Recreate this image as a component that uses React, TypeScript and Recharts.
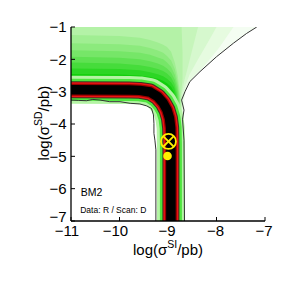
import React from "react";
import { ComposedChart, Area, Line, Scatter, XAxis, YAxis, Label } from "recharts";

const FONT = "Liberation Sans, Arial, Helvetica, sans-serif";

const xTicks = [-11, -10, -9, -8, -7];
const yTicks = [-7, -6, -5, -4, -3, -2, -1];

// centre line of the black/red valley
const bandCenter = [
  { x: -11, y: -2.94 },
  { x: -9.8, y: -2.95 },
  { x: -9.58, y: -2.96 },
  { x: -9.37, y: -3.01 },
  { x: -9.21, y: -3.16 },
  { x: -9.1, y: -3.35 },
  { x: -9.02, y: -3.57 },
  { x: -8.97, y: -3.82 },
  { x: -8.945, y: -4.12 },
  { x: -8.94, y: -4.6 },
  { x: -8.94, y: -7 },
];

// thin contour lines
const innerContour = [
  { x: -11, y: -3.26 },
  { x: -10.85, y: -3.27 },
  { x: -10.68, y: -3.28 },
  { x: -10.55, y: -3.24 },
  { x: -10.4, y: -3.26 },
  { x: -10.2, y: -3.31 },
  { x: -9.99, y: -3.31 },
  { x: -9.78, y: -3.36 },
  { x: -9.58, y: -3.38 },
  { x: -9.44, y: -3.44 },
  { x: -9.34, y: -3.52 },
  { x: -9.3, y: -3.72 },
  { x: -9.29, y: -3.98 },
  { x: -9.29, y: -4.29 },
  { x: -9.27, y: -4.5 },
  { x: -9.25, y: -4.8 },
  { x: -9.25, y: -7 },
];
const outerContour = [
  { x: -8.66, y: -7 },
  { x: -8.67, y: -4.5 },
  { x: -8.7, y: -3.85 },
  { x: -8.67, y: -3.57 },
  { x: -8.72, y: -3.26 },
  { x: -8.65, y: -3.0 },
  { x: -8.55, y: -2.69 },
  { x: -8.34, y: -2.38 },
  { x: -8.0, y: -1.92 },
  { x: -7.65, y: -1.5 },
  { x: -7.38, y: -1.2 },
  { x: -7.17, y: -1.0 },
];

// green likelihood shells: [x, low, high], lightest first
const underBand = [-11, -10, -9.58, -9.37, -9.21, -9.1, -9.02, -8.945];
const underBandLow = [-2.94, -2.95, -2.96, -3.01, -3.16, -3.35, -3.57, -4.12];

const shellColors = [
  "#f4fdf2", "#e6fbe0", "#d6f8ce", "#c6f5bb", "#b4f2a7", "#a0ee92",
  "#8cea7d", "#76e668", "#5fe152", "#46dc3b", "#2cd624", "#12cf0c",
];
const shellTops = [
  [-1, -1, -1, -1, -1, -1, -1, -1],
  [-1, -1, -1, -1, -1, -1, -1, -1],
  [-1, -1, -1, -1, -1, -1, -1, -1],
  [-1, -1, -1, -1, -1, -1, -1, -1],
  [-1, -1, -1, -1, -1, -1, -1, -1],
  [-1.25, -1.28, -1.33, -1.4, -1.48, -1.55, -1.62, -1.75],
  [-1.5, -1.53, -1.58, -1.65, -1.73, -1.8, -1.9, -2.02],
  [-1.72, -1.75, -1.8, -1.86, -1.94, -2.0, -2.1, -2.22],
  [-1.92, -1.95, -2.0, -2.06, -2.13, -2.2, -2.28, -2.4],
  [-2.1, -2.13, -2.18, -2.24, -2.3, -2.36, -2.44, -2.55],
  [-2.28, -2.3, -2.34, -2.4, -2.46, -2.52, -2.6, -2.7],
  [-2.45, -2.47, -2.5, -2.55, -2.6, -2.66, -2.74, -2.84],
];
const shellRight = [
  [[-8.94, -7, -1], [-8.66, -7, -1], [-8.67, -3.6, -1], [-8.65, -3.0, -1], [-8.55, -2.69, -1], [-8.34, -2.38, -1], [-8.0, -1.92, -1], [-7.65, -1.5, -1], [-7.38, -1.2, -1], [-7.17, -1.0, -1]],
  [[-8.94, -7, -1], [-8.68, -7, -1], [-8.69, -3.3, -1], [-8.62, -2.85, -1], [-8.48, -2.55, -1], [-8.25, -2.2, -1], [-7.95, -1.65, -1], [-7.65, -1.0, -1]],
  [[-8.94, -7, -1], [-8.7, -7, -1], [-8.71, -3.2, -1], [-8.64, -2.8, -1], [-8.55, -2.45, -1], [-8.38, -2.0, -1], [-8.15, -1.4, -1], [-8.0, -1.0, -1]],
  [[-8.94, -7, -1], [-8.715, -7, -1], [-8.72, -3.1, -1], [-8.67, -2.7, -1], [-8.6, -2.3, -1], [-8.5, -1.7, -1], [-8.38, -1.0, -1]],
  [[-8.94, -7, -1], [-8.73, -7, -1], [-8.73, -3.05, -1], [-8.7, -2.6, -1], [-8.7, -1.8, -1], [-8.72, -1.0, -1]],
  [[-8.94, -7, -1.75], [-8.86, -7, -2.1], [-8.8, -7, -2.5], [-8.76, -7, -2.95], [-8.745, -7, -3.4], [-8.74, -7, -7]],
  [[-8.94, -7, -2.02], [-8.86, -7, -2.3], [-8.8, -7, -2.7], [-8.765, -7, -3.1], [-8.75, -7, -3.5], [-8.745, -7, -7]],
  [[-8.94, -7, -2.22], [-8.86, -7, -2.48], [-8.8, -7, -2.85], [-8.77, -7, -3.25], [-8.755, -7, -3.6], [-8.75, -7, -7]],
  [[-8.94, -7, -2.4], [-8.86, -7, -2.63], [-8.81, -7, -2.95], [-8.78, -7, -3.35], [-8.765, -7, -3.7], [-8.76, -7, -7]],
  [[-8.94, -7, -2.55], [-8.87, -7, -2.75], [-8.82, -7, -3.05], [-8.79, -7, -3.45], [-8.775, -7, -3.8], [-8.77, -7, -7]],
  [[-8.94, -7, -2.7], [-8.87, -7, -2.88], [-8.83, -7, -3.15], [-8.8, -7, -3.55], [-8.785, -7, -3.9], [-8.78, -7, -7]],
  [[-8.94, -7, -2.84], [-8.88, -7, -3.0], [-8.84, -7, -3.25], [-8.81, -7, -3.65], [-8.795, -7, -4.0], [-8.79, -7, -7]],
];

// cross-section of the valley, outermost stroke first
const bandWidths = [28, 22, 17, 15, 12, 9.5];
const bandColors = ["#b4f4a4", "#4ee63e", "#3a3220", "#ec1414", "#9a0000", "#000000"];

const bestFit = [{ x: -8.99, y: -4.54 }];
const benchmark = [{ x: -9.01, y: -4.99 }];
const notes = [
  { x: -10.8, y: -6.22, text: "BM2", size: 10.5 },
  { x: -10.81, y: -6.74, text: "Data: R / Scan: D", size: 8.5 },
];

const shells = shellColors.map((c, i) => ({
  color: c,
  data: [
    ...underBand.map((x, j) => ({ x, range: [underBandLow[j], shellTops[i][j]] })),
    ...shellRight[i].map(([x, lo, hi]) => ({ x, range: [lo, hi] })),
  ],
}));

const fmt = (v: number) => (v < 0 ? "\u2212" + Math.abs(v) : String(v));

const BottomTick = (p: any) => (
  <g>
    <line x1={p.x} x2={p.x} y1={p.y} y2={p.y - 4} stroke="#000" strokeWidth={1} />
    <text x={p.x} dx={p.payload.value <= -10 ? -4 : -1} y={p.y + 14.5} textAnchor="middle" fontSize={15} fontFamily={FONT} fill="#000">
      {fmt(p.payload.value)}
    </text>
  </g>
);
const LeftTick = (p: any) => (
  <g>
    <line x1={p.x} x2={p.x + 4} y1={p.y} y2={p.y} stroke="#000" strokeWidth={1} />
    <text x={p.x - 4.3} y={p.y + (p.payload.value === -7 ? -4.5 : 0)} dy="0.36em" textAnchor="end" fontSize={15} fontFamily={FONT} fill="#000">
      {fmt(p.payload.value)}
    </text>
  </g>
);
const TopTick = (p: any) => <line x1={p.x} x2={p.x} y1={p.y} y2={p.y + 4} stroke="#000" strokeWidth={1} />;
const RightTick = (p: any) => <line x1={p.x} x2={p.x - 4} y1={p.y} y2={p.y} stroke="#000" strokeWidth={1} />;

const XTitle = (props: any) => {
  const { x, y, width } = props.viewBox;
  return (
    <text x={x + width / 2} y={y + 34} textAnchor="middle" fontSize={15} fontFamily={FONT} fill="#000">
      log(σ<tspan dy={-7} fontSize={10.5}>SI</tspan>
      <tspan dy={7}>/pb)</tspan>
    </text>
  );
};
const YTitle = (props: any) => {
  const { y, height } = props.viewBox;
  const cx = 40.5;
  const cy = y + height / 2 - 1;
  return (
    <text x={cx} y={cy} transform={`rotate(-90, ${cx}, ${cy})`} textAnchor="middle" fontSize={15} fontFamily={FONT} fill="#000">
      log(σ<tspan dy={-7} fontSize={10.5}>SD</tspan>
      <tspan dy={7}>/pb)</tspan>
    </text>
  );
};

const CrossCircle = (p: any) => (
  <g stroke="#ffee00" strokeWidth={1.8} fill="none">
    <circle cx={p.cx} cy={p.cy} r={7.5} />
    <line x1={p.cx - 5.3} y1={p.cy - 5.3} x2={p.cx + 5.3} y2={p.cy + 5.3} />
    <line x1={p.cx - 5.3} y1={p.cy + 5.3} x2={p.cx + 5.3} y2={p.cy - 5.3} />
  </g>
);
const Dot = (p: any) => <circle cx={p.cx} cy={p.cy} r={4.3} fill="#ffee00" />;
const Note = (p: any) => (
  <text x={p.cx} y={p.cy} fontSize={p.payload.size} fontFamily={FONT} fill="#000">
    {p.payload.text}
  </text>
);

export default function App() {
  return (
    <ComposedChart width={283} height={283} margin={{ top: 19, right: 26, bottom: 30, left: 0 }}>
      <XAxis dataKey="x" type="number" domain={[-11, -7]} ticks={xTicks} allowDataOverflow
        height={40} tickSize={0} tickMargin={0} tick={BottomTick}
        axisLine={{ stroke: "#000", strokeWidth: 1.3 }}>
        <Label content={XTitle} />
      </XAxis>
      <XAxis xAxisId="t" orientation="top" dataKey="x" type="number" domain={[-11, -7]} ticks={xTicks}
        allowDataOverflow height={0} tickSize={0} tickMargin={0} tick={TopTick}
        axisLine={{ stroke: "#000", strokeWidth: 1.3 }} />
      <YAxis type="number" domain={[-7, -1]} ticks={yTicks} allowDataOverflow width={63}
        tickSize={0} tickMargin={0} tick={LeftTick} axisLine={{ stroke: "#000", strokeWidth: 1.3 }}>
        <Label content={YTitle} />
      </YAxis>
      <YAxis yAxisId="r" orientation="right" type="number" domain={[-7, -1]} ticks={yTicks} allowDataOverflow
        width={0} tickSize={0} tickMargin={0} tick={RightTick} axisLine={{ stroke: "#000", strokeWidth: 1.3 }} />

      {shells.map((s, i) => (
        <Area key={"s" + i} data={s.data} dataKey="range" type="linear" fill={s.color} fillOpacity={1}
          stroke="none" dot={false} activeDot={false} isAnimationActive={false} />
      ))}
      {bandWidths.map((w, i) => (
        <Line key={"b" + i} data={bandCenter} dataKey="y" type="linear" stroke={bandColors[i]} strokeWidth={w}
          strokeLinejoin="round" dot={false} activeDot={false} isAnimationActive={false} />
      ))}
      <Line data={innerContour} dataKey="y" type="linear" stroke="#333" strokeWidth={1}
        dot={false} activeDot={false} isAnimationActive={false} />
      <Line data={outerContour} dataKey="y" type="linear" stroke="#333" strokeWidth={1}
        dot={false} activeDot={false} isAnimationActive={false} />
      <Scatter data={bestFit} dataKey="y" shape={CrossCircle} isAnimationActive={false} />
      <Scatter data={benchmark} dataKey="y" shape={Dot} isAnimationActive={false} />
      <Scatter data={notes} dataKey="y" shape={Note} isAnimationActive={false} />
    </ComposedChart>
  );
}
